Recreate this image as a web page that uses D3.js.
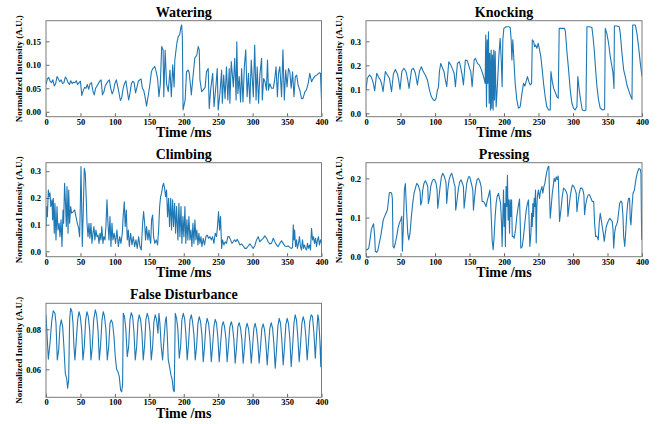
<!DOCTYPE html>
<html>
<head>
<meta charset="utf-8">
<script src="https://cdn.jsdelivr.net/npm/d3@7"></script>
<style>
  body { margin: 0; background: #fff; }
  text { font-family: "Liberation Serif", "Times New Roman", serif; font-weight: bold; fill: #000; }
</style>
</head>
<body>
<div id="chart"></div>
<script>
// ---- data: [time ms, normalized intensity] ----
const xTicks = [0, 50, 100, 150, 200, 250, 300, 350, 400];

const watering = [[0,0.058],[2,0.07],[4,0.073],[6,0.065],[8,0.062],[10,0.068],[12,0.055],[14,0.06],[16,0.075],[18,0.07],[20,0.064],[22,0.068],[24,0.06],[26,0.062],[28,0.074],[30,0.07],[32,0.062],[34,0.058],[36,0.066],[38,0.06],[40,0.063],[42,0.062],[44,0.066],[46,0.058],[48,0.062],[50,0.065],[52,0.035],[54,0.045],[56,0.052],[58,0.05],[60,0.058],[62,0.048],[64,0.06],[66,0.062],[68,0.045],[70,0.036],[72,0.05],[74,0.055],[76,0.06],[78,0.065],[80,0.068],[82,0.036],[84,0.042],[86,0.055],[88,0.06],[90,0.065],[92,0.068],[94,0.05],[96,0.038],[98,0.045],[100,0.06],[102,0.068],[104,0.055],[106,0.04],[108,0.024],[110,0.03],[112,0.05],[114,0.06],[116,0.066],[118,0.045],[120,0.025],[122,0.04],[124,0.06],[126,0.065],[128,0.062],[130,0.04],[132,0.052],[134,0.065],[136,0.068],[138,0.07],[140,0.05],[142,0.045],[144,0.03],[146,0.012],[149,0.04],[151,0.06],[153,0.085],[155,0.092],[158,0.096],[160,0.085],[162,0.071],[164,0.032],[166,0.06],[168,0.139],[170,0.132],[171,0.032],[173,0.131],[175,0.06],[177.5,0.043],[180,0.089],[182,0.032],[184,0.1],[186,0.053],[187,0.11],[190,0.146],[192,0.16],[194,0.164],[196,0.181],[197,0.185],[198,0.16],[199,0.004],[202,0.025],[204,0.085],[206.5,0.089],[208,0.082],[210,0.053],[211,0.036],[213,0.068],[216,0.114],[219,0.121],[221,0.139],[222.5,0.132],[223.5,0.068],[226,0.043],[228,0.046],[231,0.052],[233,0.085],[235.5,0.092],[237,0.007],[239,0.046],[242,0.082],[244,0.011],[247,0.06],[248.6,0.092],[250,0.004],[252.5,0.039],[255,0.089],[256,0.018],[258,0.078],[260,0.028],[262,0.096],[264,0.025],[266,0.092],[267,0.018],[269,0.107],[272,0.053],[274,0.114],[276,0.025],[277,0.149],[278.6,0.039],[280.5,0.075],[282.5,0.021],[284,0.092],[286,0.021],[288,0.096],[290,0.132],[292,0.032],[294,0.082],[296,0.018],[298,0.11],[301,0.032],[303,0.142],[305,0.025],[306.6,0.096],[308.6,0.018],[310.5,0.078],[313,0.114],[314,0.025],[316,0.071],[318,0.064],[320,0.046],[321.6,0.11],[323,0.046],[325,0.06],[327.5,0.05],[330,0.05],[332,0.068],[334,0.096],[336,0.032],[337.6,0.082],[339.5,0.096],[342,0.032],[344,0.132],[346,0.025],[348,0.089],[350,0.053],[352,0.092],[354,0.085],[356,0.05],[358,0.085],[360,0.032],[362,0.075],[364,0.078],[366,0.057],[368.5,0.046],[371,0.028],[373,0.028],[376,0.043],[378,0.046],[380.6,0.06],[383,0.082],[385.5,0.064],[388,0.071],[390,0.075],[393,0.078],[396.6,0.083],[398.5,0.082],[400,0.025]];

const knocking = [[0,0.097],[2,0.146],[5,0.16],[8,0.15],[10.6,0.125],[12.6,0.094],[15.5,0.167],[18.4,0.15],[21,0.139],[23,0.118],[24.7,0.09],[28,0.174],[31,0.16],[34,0.146],[37,0.09],[39.7,0.164],[42.6,0.183],[45.5,0.164],[47.4,0.139],[49.3,0.1],[52,0.174],[55,0.188],[58,0.174],[60.5,0.139],[62.4,0.104],[66,0.181],[68.7,0.188],[71.6,0.167],[74.5,0.118],[77.4,0.174],[80.3,0.194],[83,0.174],[86,0.16],[89,0.139],[92,0.097],[94.8,0.069],[97.7,0.056],[99.6,0.053],[101.6,0.063],[103.5,0.097],[105,0.108],[106.4,0.174],[108.3,0.208],[111,0.188],[113,0.174],[115,0.139],[117,0.111],[120,0.215],[123,0.201],[125.8,0.181],[127.7,0.167],[129.6,0.111],[132.5,0.208],[135.4,0.215],[137.4,0.188],[139.3,0.16],[141.2,0.118],[144,0.222],[147,0.219],[150,0.188],[151.9,0.174],[153.8,0.111],[156.7,0.222],[158.6,0.229],[161.5,0.208],[164.4,0.201],[167.3,0.181],[169,0.167],[171,0.146],[172.7,0.125],[173.6,0.326],[174.6,0.028],[175.6,0.306],[176.5,0.125],[177.5,0.34],[178.5,0.042],[179.4,0.25],[180.4,0.014],[181.4,0.264],[182.3,0.021],[183.3,0.243],[184.3,0.014],[185.2,0.264],[186.2,0.056],[187.2,0.257],[188.6,0.028],[190.6,0.125],[192.5,0.236],[194.4,0.313],[196,0.222],[197.3,0.111],[198.3,0.306],[199.8,0.354],[203,0.361],[207,0.361],[209,0.358],[210.4,0.306],[211.4,0.222],[212.8,0.306],[213.8,0.25],[216.2,0.125],[218.6,0.056],[221,0.021],[223.5,0.028],[226,0.083],[228.3,0.125],[230.2,0.114],[232,0.132],[234,0.153],[236,0.132],[238,0.118],[240,0.125],[241,0.306],[243,0.299],[244.3,0.278],[245.7,0.285],[247.6,0.271],[249.6,0.292],[251.5,0.264],[253.4,0.236],[255.4,0.181],[257.3,0.125],[259.7,0.069],[262,0.028],[264.6,0.014],[267,0.014],[268,0.174],[270,0.132],[272,0.104],[274,0.09],[276.7,0.069],[278.6,0.063],[280,0.354],[284,0.354],[287.8,0.354],[289,0.34],[291,0.264],[293.6,0.181],[296,0.097],[298.4,0.042],[300.8,0.021],[303,0.014],[305.7,0.028],[307,0.153],[309,0.097],[311,0.056],[313.4,0.014],[316.8,0.011],[318.7,0.014],[320.2,0.361],[324,0.361],[327.4,0.358],[329,0.319],[330.8,0.264],[332.8,0.181],[334.7,0.111],[337,0.056],[339.5,0.021],[343.4,0.014],[345.8,0.017],[346.8,0.354],[349,0.333],[351.6,0.292],[354,0.236],[356.5,0.194],[358,0.167],[359.4,0.104],[360,0.364],[363.7,0.364],[367,0.361],[368.5,0.333],[371,0.25],[373.4,0.181],[375.8,0.153],[378.2,0.118],[380.6,0.097],[383,0.076],[385.5,0.058],[386.5,0.368],[390.3,0.368],[392.7,0.333],[395,0.278],[397.6,0.208],[400,0.153]];

const climbing = [[0,0.093],[1,0.168],[2,0.13],[3.4,0.23],[4.8,0.205],[5.8,0.218],[7,0.168],[8.7,0.193],[9.6,0.118],[10.6,0.199],[12,0.068],[13,0.18],[14.5,0.043],[16,0.168],[17.4,0.08],[19,0.105],[20.3,0.055],[21.8,0.118],[23.2,0.018],[24.7,0.155],[25.6,0.105],[27,0.255],[28.5,0.168],[29.5,0.093],[30.5,0.243],[32,0.068],[33,0.23],[34.3,0.105],[35.8,0.168],[37.2,0.143],[39.7,0.149],[41.6,0.155],[43.5,0.13],[45.5,0.105],[47.4,0.086],[48.8,0.055],[49.8,0.168],[50.8,0.318],[51.8,0.168],[52.7,0.018],[54,0.143],[55.6,0.311],[57,0.293],[58.5,0.193],[59.5,0.105],[61,0.055],[62.4,0.105],[63.8,0.049],[65.3,0.105],[66.7,0.03],[68.2,0.068],[69.6,0.093],[71,0.043],[72.5,0.08],[74,0.055],[75.5,0.061],[77,0.03],[78.4,0.068],[79.8,0.043],[81,0.093],[82.7,0.03],[84,0.055],[85.6,0.043],[87,0.093],[88.5,0.193],[90,0.105],[91.4,0.043],[92.9,0.13],[94.3,0.018],[95.8,0.105],[97.2,0.043],[99,0.068],[101,0.03],[103,0.08],[105,0.018],[107,0.055],[108.8,0.03],[110.8,0.068],[112,0.13],[113.7,0.186],[115,0.093],[116.6,0.155],[118,0.043],[119.5,0.08],[121,0.018],[122.9,0.068],[124.8,0.024],[126.7,0.055],[128.7,0.018],[130.6,0.043],[132.5,0.011],[134.5,0.055],[136.4,0.018],[138.3,0.005],[140.3,0.105],[141.7,0.149],[143.2,0.105],[144.6,0.043],[146,0.093],[148,0.043],[149.5,0.08],[151,0.043],[152,0.03],[153.3,0.118],[154.8,0.136],[156.2,0.055],[158,0.03],[160,0.043],[162,0.024],[163.5,0.08],[165,0.168],[166.4,0.205],[167.8,0.218],[169.3,0.243],[170.7,0.255],[172.2,0.236],[173.6,0.205],[175,0.23],[176.5,0.13],[178,0.199],[179.4,0.093],[181,0.199],[182.3,0.08],[183.8,0.193],[185.2,0.093],[186.7,0.18],[188.2,0.068],[189.6,0.168],[191.5,0.043],[193,0.18],[194.4,0.055],[196,0.168],[197.3,0.03],[198.8,0.13],[200.2,0.055],[201.7,0.168],[203,0.03],[204.6,0.118],[206,0.043],[207.5,0.13],[209,0.043],[210.4,0.08],[211.8,0.018],[213.3,0.105],[214.8,0.03],[216.2,0.118],[217.7,0.043],[219,0.08],[220.6,0.024],[222,0.068],[223.5,0.03],[225,0.055],[226.4,0.018],[228.3,0.049],[230.2,0.024],[232.2,0.055],[234,0.061],[236,0.049],[238,0.055],[240,0.043],[241.8,0.055],[243.8,0.03],[245.7,0.068],[247.6,0.055],[249,0.093],[250.5,0.149],[252,0.08],[253.4,0.13],[255,0.011],[256.3,0.043],[258.3,0.024],[260.2,0.036],[262,0.03],[264,0.055],[266,0.055],[268,0.043],[270,0.03],[271.8,0.036],[273.8,0.043],[275.7,0.036],[277.6,0.045],[279.6,0.036],[281.5,0.024],[284,0.028],[286.3,0.02],[288.8,0.011],[291,0.011],[293.6,0.02],[296,0.028],[298.4,0.02],[300.8,0.011],[303,0.02],[305.7,0.043],[308,0.055],[310.5,0.036],[313,0.043],[315.4,0.049],[317.8,0.058],[320.2,0.049],[322.6,0.036],[325,0.028],[327.4,0.03],[330,0.049],[332.3,0.036],[334.7,0.024],[337,0.018],[339.5,0.03],[342,0.04],[344.4,0.03],[346.8,0.02],[349,0.018],[351.6,0.02],[354,0.015],[356.5,0.011],[358,0.015],[359,0.099],[360,0.043],[361,0.08],[362.3,0.018],[363.7,0.043],[365,0.011],[366.6,0.03],[368,0.055],[369.5,0.018],[371,0.005],[372.4,0.043],[373.9,0.011],[375.3,0.024],[376.8,0.011],[378.2,0.005],[379.7,0.03],[381,0.011],[382.6,0.024],[384,0.005],[385.5,0.086],[387,0.043],[388.4,0.055],[389.8,0.03],[391.3,0.049],[392.7,0.018],[394.2,0.043],[395.6,0.055],[397,0.024],[398.5,0.043],[400,0.03]];

const pressing = [[0,0.018],[2,0.018],[4,0.022],[5.8,0.043],[7.7,0.069],[9.7,0.079],[11,0.084],[12.6,0.052],[13.5,0.014],[15.5,0.011],[17.4,0.018],[19.3,0.035],[21.3,0.052],[23.2,0.073],[25,0.094],[27,0.103],[29,0.111],[31,0.119],[32.4,0.141],[33.9,0.164],[35.8,0.164],[37.2,0.162],[38.2,0.149],[39.2,0.026],[40.6,0.022],[42.6,0.035],[44.5,0.052],[46.4,0.073],[48.4,0.086],[50.3,0.094],[51.8,0.103],[52.7,0.014],[54,0.069],[55.6,0.17],[57,0.187],[58.5,0.128],[60.5,0.06],[62,0.043],[63.8,0.06],[65.8,0.103],[67.7,0.136],[69.6,0.162],[71.6,0.175],[73.5,0.187],[75.5,0.183],[77,0.175],[78.4,0.166],[79.3,0.132],[80.8,0.141],[82.2,0.17],[84,0.187],[86,0.194],[88,0.187],[89.5,0.179],[90.4,0.136],[92,0.149],[93.8,0.179],[95.8,0.192],[97.7,0.198],[99.6,0.196],[101.6,0.187],[103,0.17],[104,0.124],[105.4,0.145],[107.4,0.179],[109.3,0.204],[111.2,0.213],[113.2,0.206],[115,0.196],[116,0.187],[117,0.136],[118.5,0.17],[120.4,0.196],[122.4,0.208],[124.3,0.213],[126.2,0.2],[127.7,0.187],[129.1,0.179],[130,0.119],[132,0.145],[134,0.175],[136,0.192],[137.8,0.196],[139.8,0.187],[141.2,0.179],[142.2,0.124],[144,0.153],[146,0.187],[148.5,0.204],[150.4,0.204],[152,0.192],[153.3,0.183],[154.8,0.17],[155.7,0.119],[157.2,0.149],[159,0.179],[161,0.197],[163,0.2],[165,0.192],[166.9,0.179],[168.3,0.141],[170.3,0.141],[172.2,0.136],[174,0.128],[176,0.145],[178,0.158],[179.4,0.17],[180.4,0.149],[181.9,0.086],[182.8,0.043],[184.3,0.018],[185.7,0.052],[187.2,0.103],[188.6,0.136],[190,0.153],[192,0.162],[193.5,0.149],[195,0.136],[196.4,0.086],[197.3,0.026],[198.3,0.103],[199.3,0.17],[200.2,0.077],[201.2,0.136],[202,0.026],[203,0.179],[204,0.128],[205,0.208],[206,0.094],[207,0.145],[208,0.06],[209,0.145],[210,0.103],[211,0.145],[212,0.052],[213.3,0.052],[214.8,0.047],[216.7,0.069],[218.6,0.103],[220.6,0.128],[222.5,0.147],[223.5,0.086],[224.4,0.022],[226.4,0.026],[228.3,0.052],[230.2,0.086],[232.2,0.119],[234,0.136],[235.5,0.145],[236.5,0.086],[237.5,0.026],[239,0.06],[240,0.111],[240.9,0.077],[241.8,0.136],[242.8,0.103],[243.8,0.149],[244.7,0.128],[245.7,0.17],[246.7,0.035],[247.6,0.128],[248.6,0.158],[250,0.17],[251.5,0.149],[252.5,0.162],[253.4,0.17],[255,0.179],[256.3,0.162],[257.8,0.179],[259.2,0.187],[260.7,0.204],[262,0.217],[264,0.23],[265,0.231],[266,0.153],[267,0.098],[268.4,0.128],[270,0.162],[271.3,0.179],[272.7,0.2],[274.2,0.192],[275.7,0.204],[277,0.197],[278.6,0.206],[279.6,0.149],[280.5,0.09],[282.5,0.119],[284.4,0.153],[286.3,0.175],[288.3,0.172],[290.2,0.166],[291.7,0.158],[292.6,0.103],[294,0.124],[296,0.153],[298,0.175],[299.4,0.183],[301.3,0.179],[303.3,0.17],[304.7,0.162],[305.7,0.115],[307,0.136],[309,0.162],[311,0.175],[313,0.175],[314.4,0.17],[315.8,0.158],[316.8,0.107],[318.3,0.132],[320.2,0.149],[322,0.158],[324,0.158],[326,0.149],[328,0.141],[330,0.141],[331.3,0.086],[332.8,0.052],[334.7,0.052],[336.6,0.043],[338,0.086],[339.5,0.111],[341,0.094],[342.4,0.077],[343.9,0.06],[345.3,0.039],[346.8,0.06],[348.2,0.077],[350,0.086],[352,0.094],[353.4,0.098],[355,0.094],[356.8,0.09],[358,0.069],[359,0.022],[360.3,0.06],[361.8,0.077],[363.2,0.081],[364.6,0.09],[366,0.111],[367.6,0.136],[369.5,0.142],[371,0.138],[372.4,0.103],[373.4,0.052],[375,0.026],[376.3,0.06],[377.7,0.103],[379.2,0.136],[380.6,0.149],[382,0.149],[383,0.094],[384,0.081],[385.5,0.128],[387,0.162],[389,0.17],[390.3,0.187],[391.8,0.204],[393.7,0.217],[395.6,0.225],[397.6,0.223],[398.5,0.213],[399.5,0.043]];

const falseDisturbance = [[0,0.0872],[3.4,0.065],[5.8,0.073],[8.2,0.0838],[10.6,0.0893],[13,0.088],[14.5,0.083],[16.4,0.0647],[18.4,0.0697],[20.3,0.0813],[22.2,0.0847],[24.2,0.0813],[26,0.0713],[28,0.058],[30,0.0555],[31.4,0.0505],[32.9,0.0547],[34.3,0.0847],[35.8,0.0905],[37.7,0.0888],[39.2,0.083],[40.6,0.0713],[42,0.0647],[44,0.0747],[46,0.0847],[48,0.0888],[49.8,0.0863],[51.8,0.0797],[53.7,0.0647],[55.6,0.0713],[57.6,0.0847],[59.5,0.0888],[61.4,0.0863],[63.4,0.0797],[65.3,0.0647],[67.2,0.0713],[69.2,0.0847],[71.6,0.0897],[73.5,0.0872],[75.5,0.0797],[77.4,0.0647],[79.3,0.0722],[81.3,0.0847],[83.2,0.0888],[85,0.0863],[87,0.0797],[89,0.0647],[91,0.0713],[92.9,0.083],[94.8,0.0847],[96.7,0.083],[98.7,0.0763],[100.6,0.0663],[102.5,0.06],[104.5,0.0588],[106.4,0.0563],[108.3,0.0497],[109.8,0.0488],[111.2,0.0522],[112.2,0.088],[114,0.0863],[116,0.0797],[118,0.0663],[120,0.0713],[121.9,0.0847],[123.8,0.0883],[125.8,0.0863],[127.7,0.0788],[129.6,0.0647],[131.6,0.0713],[133.5,0.0838],[135.4,0.0872],[137.4,0.0847],[139.3,0.078],[141.2,0.0647],[143.2,0.0722],[145,0.0847],[147,0.088],[149,0.0855],[151,0.0788],[152.8,0.0647],[154.8,0.0713],[156.7,0.0838],[158.6,0.0872],[160.6,0.0847],[162.5,0.078],[164,0.088],[165.4,0.083],[167.3,0.0713],[169.3,0.0647],[171.2,0.0747],[173.2,0.0838],[174.6,0.0863],[176,0.078],[177.5,0.0647],[179.4,0.0613],[181.4,0.0572],[183.3,0.0547],[184.8,0.0497],[186.2,0.0488],[187.7,0.088],[189.6,0.0855],[191.5,0.0797],[193.5,0.0655],[195.4,0.0713],[197.3,0.0847],[199.3,0.088],[201.2,0.0855],[203,0.078],[205,0.0647],[207,0.073],[209,0.0847],[211,0.0872],[212.8,0.0838],[214.8,0.0772],[216.7,0.0647],[218.6,0.0713],[220.6,0.083],[222.5,0.0863],[224.4,0.0838],[226.4,0.0772],[228.3,0.0638],[230.2,0.0713],[232.2,0.0822],[234,0.0855],[236,0.083],[238,0.0763],[240,0.0638],[241.8,0.0713],[243.8,0.0813],[245.7,0.085],[247.6,0.083],[249.6,0.0755],[251.5,0.0638],[253.4,0.0722],[255.4,0.0813],[257.3,0.0838],[259.2,0.0813],[261.2,0.0755],[263,0.0638],[265,0.0722],[267,0.0813],[269,0.0838],[270.8,0.0813],[272.8,0.0747],[274.7,0.063],[276.7,0.0713],[278.6,0.0813],[280.5,0.0833],[282.5,0.0805],[284.4,0.0747],[286.3,0.063],[288.3,0.0713],[290.2,0.0805],[292,0.083],[294,0.0805],[296,0.0738],[298,0.063],[299.9,0.0713],[301.8,0.0805],[303.7,0.083],[305.7,0.0797],[307.6,0.073],[309.5,0.063],[311.5,0.0713],[313.4,0.0805],[315.4,0.0827],[317.3,0.0797],[319.2,0.073],[321.2,0.0622],[323,0.0713],[325,0.0805],[327,0.0833],[329,0.0805],[330.8,0.073],[332.8,0.0605],[334.7,0.0697],[336.6,0.0813],[338.6,0.0855],[340.5,0.083],[342.4,0.0747],[344.4,0.0622],[346.3,0.0713],[348.2,0.0822],[350.2,0.0855],[352,0.083],[354,0.0755],[356,0.0613],[358,0.0713],[360,0.083],[361.8,0.0872],[363.7,0.0847],[365.6,0.0763],[367.6,0.0638],[369.5,0.0722],[371.5,0.083],[373.4,0.0863],[375.3,0.0838],[377.3,0.0763],[379.2,0.0647],[381,0.073],[383,0.0838],[385,0.0872],[387,0.0863],[389,0.078],[391,0.0655],[392.7,0.0763],[394.7,0.0872],[396,0.0847],[397.6,0.0747],[399,0.0613],[400,0.0747]];

const wateringTicks = [0, 0.05, 0.10, 0.15];
const knockingTicks = [0, 0.1, 0.2, 0.3];
const climbingTicks = [0, 0.1, 0.2, 0.3];
const pressingTicks = [0, 0.1, 0.2];
const falseTicks    = [0.06, 0.08];

// ---- layout ----
const W = 657, H = 424;
const panels = [
  { title: "Watering",          data: watering,         yTicks: wateringTicks, fmt: ".2f", yDomain: [-0.0105, 0.194], left: 46,  top: 20.7,  w: 275.5, h: 96 },
  { title: "Knocking",          data: knocking,         yTicks: knockingTicks, fmt: ".1f", yDomain: [-0.014, 0.386],  left: 366, top: 20.7,  w: 276,   h: 96 },
  { title: "Climbing",          data: climbing,         yTicks: climbingTicks, fmt: ".1f", yDomain: [-0.02, 0.332],   left: 46,  top: 162.7, w: 275.5, h: 94 },
  { title: "Pressing",          data: pressing,         yTicks: pressingTicks, fmt: ".1f", yDomain: [0, 0.24],        left: 366, top: 162.7, w: 276,   h: 94 },
  { title: "False Disturbance", data: falseDisturbance, yTicks: falseTicks,    fmt: ".2f", yDomain: [0.046, 0.093],   left: 46,  top: 303.3, w: 275.5, h: 94 }
];

const svg = d3.select("#chart").append("svg")
  .attr("width", W)
  .attr("height", H);

svg.append("rect").attr("width", W).attr("height", H).attr("fill", "#fff");

panels.forEach((p, i) => {
  const g = svg.append("g").attr("transform", `translate(${p.left},${p.top})`);

  const x = d3.scaleLinear().domain([0, 400]).range([0, p.w]);
  const y = d3.scaleLinear().domain(p.yDomain).range([p.h, 0]);

  g.append("clipPath").attr("id", "clip" + i)
    .append("rect").attr("width", p.w).attr("height", p.h);

  const line = d3.line()
    .x(d => x(d[0]))
    .y(d => y(d[1]));

  g.append("path")
    .datum(p.data)
    .attr("clip-path", `url(#clip${i})`)
    .attr("fill", "none")
    .attr("stroke", "#1f77b4")
    .attr("stroke-width", 1.1)
    .attr("stroke-linejoin", "round")
    .attr("d", line);

  // inward ticks, like the original
  const xAxis = g.append("g")
    .attr("transform", `translate(0,${p.h})`)
    .call(d3.axisBottom(x).tickValues(xTicks).tickSizeInner(-3.5).tickSizeOuter(0).tickPadding(2));
  const yAxis = g.append("g")
    .call(d3.axisLeft(y).tickValues(p.yTicks).tickFormat(d3.format(p.fmt))
      .tickSizeInner(-3.5).tickSizeOuter(0).tickPadding(5));

  [xAxis, yAxis].forEach(a => {
    a.select(".domain").remove();
    a.selectAll("line").attr("stroke", "#444").attr("stroke-width", 0.8);
    a.selectAll("text").attr("font-size", 8.5).attr("font-family", null).attr("fill", "#000");
  });

  g.append("rect")
    .attr("width", p.w).attr("height", p.h)
    .attr("fill", "none")
    .attr("stroke", "#7a7a7a")
    .attr("stroke-width", 1);

  g.append("text")
    .attr("x", p.w / 2).attr("y", -4)
    .attr("text-anchor", "middle")
    .attr("font-size", 14)
    .text(p.title);

  g.append("text")
    .attr("x", p.w / 2).attr("y", p.h + 20.5)
    .attr("text-anchor", "middle")
    .attr("font-size", 14)
    .text("Time /ms");

  g.append("text")
    .attr("transform", `translate(-24,${p.h / 2}) rotate(-90)`)
    .attr("text-anchor", "middle")
    .attr("font-size", 9)
    .text("Normalized Intensity (A.U.)");
});
</script>
</body>
</html>
